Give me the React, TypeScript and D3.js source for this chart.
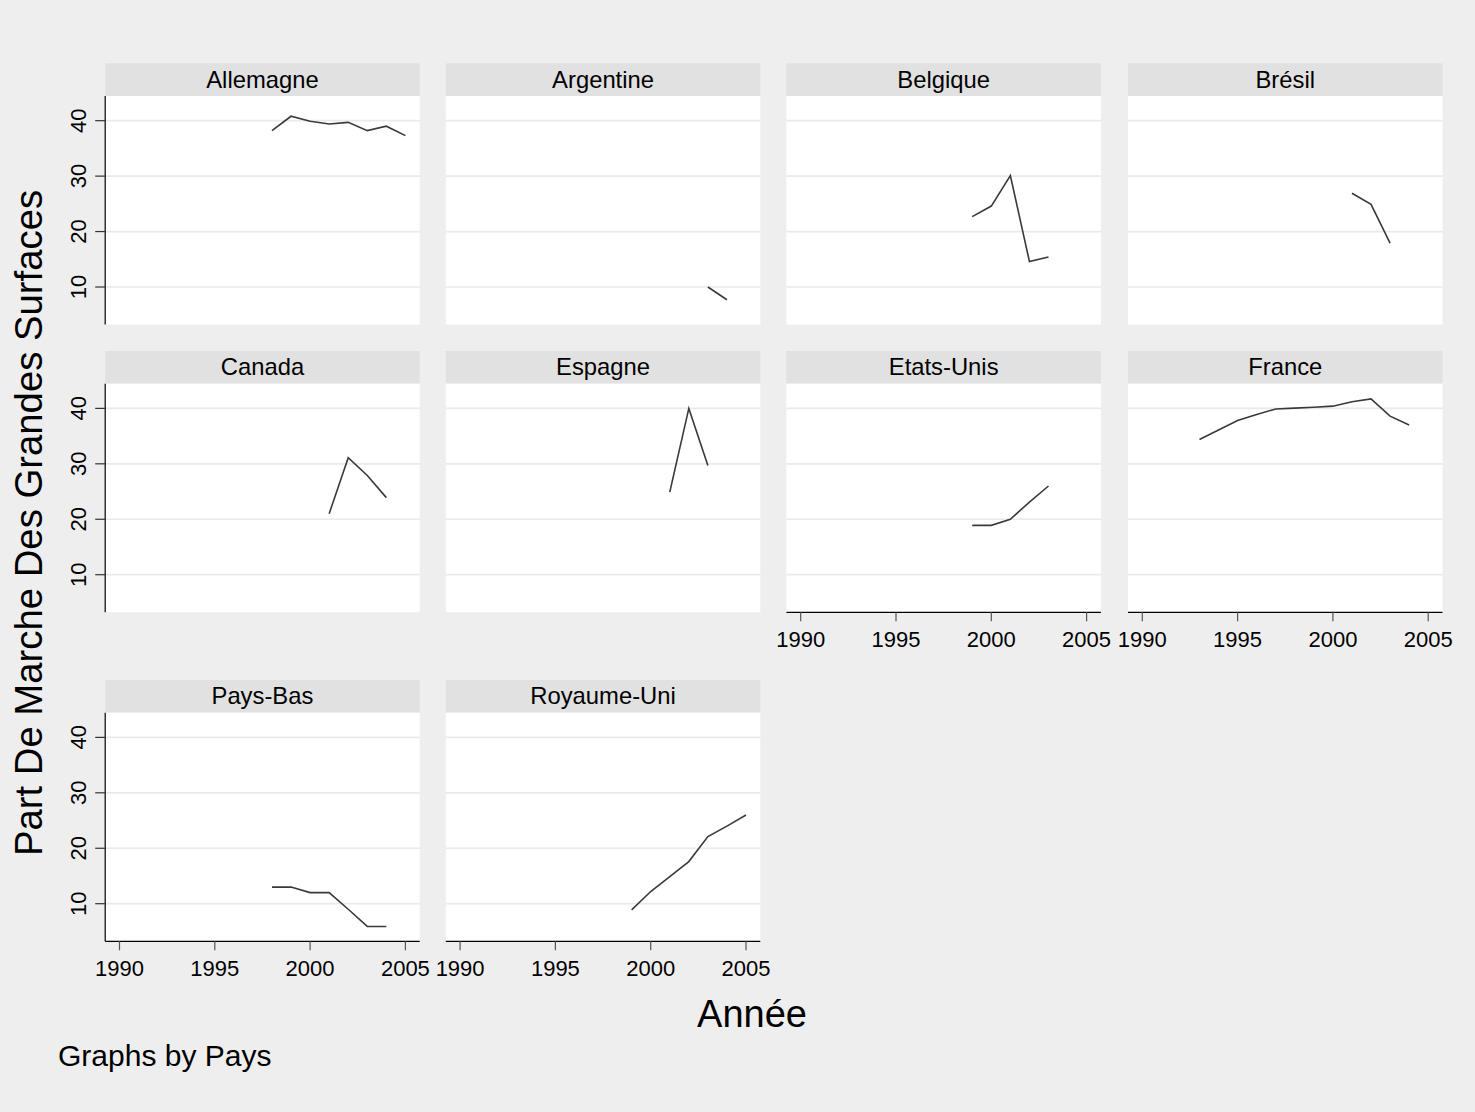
import React from "react";
import * as d3 from "d3";

// ---- Data ----
const countries = [
  "Allemagne", "Argentine", "Belgique", "Brésil",
  "Canada", "Espagne", "Etats-Unis", "France",
  "Pays-Bas", "Royaume-Uni",
];

const allemagneYears = [1998, 1999, 2000, 2001, 2002, 2003, 2004, 2005];
const allemagneValues = [38.2, 40.8, 39.9, 39.4, 39.7, 38.2, 39.0, 37.3];

const argentineYears = [2003, 2004];
const argentineValues = [10.0, 7.7];

const belgiqueYears = [1999, 2000, 2001, 2002, 2003];
const belgiqueValues = [22.7, 24.6, 30.1, 14.6, 15.4];

const bresilYears = [2001, 2002, 2003];
const bresilValues = [26.9, 24.9, 17.9];

const canadaYears = [2001, 2002, 2003, 2004];
const canadaValues = [21.0, 31.1, 27.9, 23.9];

const espagneYears = [2001, 2002, 2003];
const espagneValues = [24.9, 40.0, 29.7];

const etatsUnisYears = [1999, 2000, 2001, 2002, 2003];
const etatsUnisValues = [18.9, 18.9, 20.0, 23.1, 26.0];

const franceYears = [1993, 1994, 1995, 1996, 1997, 1998, 1999, 2000, 2001, 2002, 2003, 2004];
const franceValues = [34.4, 36.1, 37.8, 38.9, 39.9, 40.05, 40.2, 40.4, 41.2, 41.7, 38.6, 37.0];

const paysBasYears = [1998, 1999, 2000, 2001, 2002, 2003, 2004];
const paysBasValues = [13.0, 13.0, 12.0, 12.0, 9.0, 5.9, 5.9];

const royaumeUniYears = [1999, 2000, 2001, 2002, 2003, 2004, 2005];
const royaumeUniValues = [8.9, 12.2, 14.9, 17.6, 22.1, 24.0, 26.0];

const seriesYears = [
  allemagneYears, argentineYears, belgiqueYears, bresilYears,
  canadaYears, espagneYears, etatsUnisYears, franceYears,
  paysBasYears, royaumeUniYears,
];
const seriesValues = [
  allemagneValues, argentineValues, belgiqueValues, bresilValues,
  canadaValues, espagneValues, etatsUnisValues, franceValues,
  paysBasValues, royaumeUniValues,
];

const xTicks = [1990, 1995, 2000, 2005];
const yTicks = [10, 20, 30, 40];

const yTitle = "Part De Marche Des Grandes Surfaces";
const xTitle = "Année";
const note = "Graphs by Pays";

// ---- Layout ----
const W = 1475;
const H = 1112;
const colX = [105.2, 445.8, 786.4, 1128];
const rowTop = [63.3, 351, 680];
const headerH = 32.7;
const plotW = 314.5;
const plotH = 228.6;
const FONT = "'Liberation Sans', Arial, Helvetica, sans-serif";

const x = d3.scaleLinear().domain([1989.25, 2005.75]).range([0, plotW]);
const y = d3.scaleLinear().domain([3.22, 44.45]).range([plotH, 0]);

const lineGen = d3
  .line<[number, number]>()
  .x((d) => x(d[0]))
  .y((d) => y(d[1]));

function Panel({ idx }: { idx: number }) {
  const row = Math.floor(idx / 4);
  const col = idx % 4;
  const left = colX[col];
  const top = rowTop[row];
  const plotTop = top + headerH;
  const showY = col === 0;
  const showX = row === 2 || (row === 1 && col >= 2);
  const pts: [number, number][] = seriesYears[idx].map((yr, i) => [yr, seriesValues[idx][i]]);
  return (
    <g>
      <rect x={left} y={top} width={plotW} height={headerH} fill="#e1e1e1" />
      <text
        x={left + plotW / 2}
        y={top + 24.4}
        textAnchor="middle"
        fontSize={23.8}
        fontFamily={FONT}
        fill="#000"
      >
        {countries[idx]}
      </text>
      <g transform={`translate(${left},${plotTop})`}>
        <rect x={0} y={0} width={plotW} height={plotH} fill="#ffffff" />
        {yTicks.map((t) => (
          <line key={t} x1={0} x2={plotW} y1={y(t)} y2={y(t)} stroke="#eaeaea" strokeWidth={1.7} />
        ))}
        <path d={lineGen(pts) || ""} fill="none" stroke="#3a3a3a" strokeWidth={1.6} />
        {showY && (
          <g>
            <line x1={0} x2={0} y1={0} y2={plotH} stroke="#000" strokeWidth={1.2} />
            {yTicks.map((t) => (
              <g key={t}>
                <line x1={-10} x2={0} y1={y(t)} y2={y(t)} stroke="#333" strokeWidth={1.2} />
                <text
                  transform={`translate(${-19},${y(t)}) rotate(-90)`}
                  textAnchor="middle"
                  fontSize={22}
                  fontFamily={FONT}
                  fill="#000"
                >
                  {t}
                </text>
              </g>
            ))}
          </g>
        )}
        {showX && (
          <g>
            <line x1={0} x2={plotW} y1={plotH} y2={plotH} stroke="#000" strokeWidth={1.2} />
            {xTicks.map((t) => (
              <g key={t}>
                <line x1={x(t)} x2={x(t)} y1={plotH} y2={plotH + 9} stroke="#555" strokeWidth={1.2} />
                <text
                  x={x(t)}
                  y={plotH + 34.7}
                  textAnchor="middle"
                  fontSize={22}
                  fontFamily={FONT}
                  fill="#000"
                >
                  {t}
                </text>
              </g>
            ))}
          </g>
        )}
      </g>
    </g>
  );
}

export default function App() {
  return (
    <svg
      width={W}
      height={H}
      style={{ position: "absolute", left: 0, top: 0, display: "block" }}
    >
      <rect x={0} y={0} width={W} height={H} fill="#eeeeee" />
      {countries.map((c, i) => (
        <Panel key={c} idx={i} />
      ))}
      <text
        transform={`translate(42,523) rotate(-90)`}
        textAnchor="middle"
        fontSize={38.3}
        fontFamily={FONT}
        fill="#000"
      >
        {yTitle}
      </text>
      <text x={752} y={1027} textAnchor="middle" fontSize={38} fontFamily={FONT} fill="#000">
        {xTitle}
      </text>
      <text x={58} y={1066} fontSize={30} fontFamily={FONT} fill="#000">
        {note}
      </text>
    </svg>
  );
}
